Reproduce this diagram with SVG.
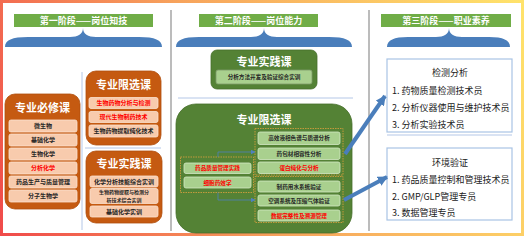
<svg xmlns="http://www.w3.org/2000/svg" width="524" height="237" viewBox="0 0 524 237">
<defs>
<linearGradient id="frame" gradientUnits="userSpaceOnUse" x1="0" y1="237" x2="524" y2="0">
<stop offset="0" stop-color="#f04a4a"/>
<stop offset="0.45" stop-color="#f7a35c"/>
<stop offset="1" stop-color="#ffe36b"/>
</linearGradient>
<marker id="thin" markerUnits="userSpaceOnUse" markerWidth="5" markerHeight="5" refX="4.5" refY="2.5" orient="auto"><path d="M0,0 L5,2.5 L0,5 Z" fill="#4f81bd"/></marker>
<marker id="thick" markerUnits="userSpaceOnUse" markerWidth="10" markerHeight="10" refX="9" refY="5" orient="auto"><path d="M0,0 L10,5 L0,10 Z" fill="#4a7ebb"/></marker>
</defs>
<style>
text{font-family:"Noto Sans CJK SC","Noto Sans",sans-serif}
.stt{font-size:9px;font-weight:bold;fill:#fff;text-anchor:middle}
.bar{fill:#70ad47}
.brace{fill:#4a7ebb}
.sep{stroke:#b4c7e7;stroke-width:1;fill:none}
.div{stroke:#a6a6a6;stroke-width:1.5}
.obox{fill:#c55a11;stroke:#b04e0d;stroke-width:0.8}
.gbox{fill:#548235;stroke:#466f2b;stroke-width:0.8}
.ttl{font-size:11px;font-weight:bold;fill:#fff;text-anchor:middle}
.oi{fill:#f8cbad;stroke:#fbe2d0;stroke-width:0.8}
.gi{fill:#a9d08e;stroke:#d3e8c4;stroke-width:0.8}
.it{font-size:6px;font-weight:bold;fill:#262626;text-anchor:middle}
.it2{font-size:5px;font-weight:bold;fill:#262626;text-anchor:middle}
.gt{font-size:5.6px;font-weight:bold;fill:#262626;text-anchor:middle}
.red{fill:#ff0000}
.grp{fill:none;stroke:#c39a3c;stroke-width:1;stroke-dasharray:1.5 1}
.cbox{fill:#fff;stroke:#a9c4e4;stroke-width:1.2}
.ct{font-size:9px;fill:#1a1a1a}
.ch{font-size:9px;fill:#1a1a1a;text-anchor:middle}
</style>
<rect x="0" y="0" width="524" height="237" fill="#fff"/>
<rect x="1.5" y="1.5" width="521" height="233" fill="#fff" stroke="url(#frame)" stroke-width="3"/>

<line class="div" x1="171" y1="10" x2="171" y2="231"/>
<line class="div" x1="369" y1="10" x2="369" y2="231"/>

<g id="stage1-header">
<rect class="bar" x="14" y="14" width="139" height="13"/>
<text class="stt" x="83.5" y="24.3">第一阶段——岗位知技</text>
<path class="brace" d="M5,47 C5,40 12,37 28,37 L70,37 C78,37 83,34 83,28 C83,34 88,37 96,37 L139,37 C155,37 162,40 162,47 Z"/>
</g>
<g id="stage2-header">
<rect class="bar" x="199" y="14" width="119" height="13"/>
<text class="stt" x="258.5" y="24.3">第二阶段——岗位能力</text>
<path class="brace" d="M176,47 C176,40 183,37 199,37 L251,37 C259,37 264,34 264,28 C264,34 269,37 277,37 L329,37 C345,37 352,40 352,47 Z"/>
</g>
<g id="stage3-header">
<rect class="bar" x="381" y="14" width="130" height="13"/>
<text class="stt" x="446" y="24.3">第三阶段——职业素养</text>
<path class="brace" d="M387,47 C387,40 394,37 408,37 L436,37 C444,37 449,34 449,28 C449,34 454,37 462,37 L489,37 C503,37 510,40 510,47 Z"/>
</g>

<g id="separators">
<line class="sep" x1="82" y1="72" x2="82" y2="230"/>
<line class="sep" x1="85" y1="148" x2="161" y2="148"/>
<line class="sep" x1="178" y1="98" x2="353" y2="98"/>
<line class="sep" x1="387" y1="135" x2="512" y2="135"/>
</g>

<g id="bixiu">
<rect class="obox" x="5" y="94" width="75" height="115" rx="10"/>
<text class="ttl" x="42.5" y="112">专业必修课</text>
<rect class="oi" x="9" y="120" width="68" height="12" rx="2"/><text class="it" x="43" y="128.2">微生物</text>
<rect class="oi" x="9" y="134" width="68" height="12" rx="2"/><text class="it" x="43" y="142.2">基础化学</text>
<rect class="oi" x="9" y="148" width="68" height="12" rx="2"/><text class="it" x="43" y="156.2">生物化学</text>
<rect class="oi" x="9" y="162" width="68" height="12" rx="2"/><text class="it red" x="43" y="170.2">分析化学</text>
<rect class="oi" x="9" y="176" width="68" height="12" rx="2"/><text class="it" x="43" y="184.2">药品生产与质量管理</text>
<rect class="oi" x="9" y="190" width="68" height="12" rx="2"/><text class="it" x="43" y="198.2">分子生物学</text>
</g>

<g id="xianxuan1">
<rect class="obox" x="86" y="71" width="75" height="74" rx="10"/>
<text class="ttl" x="123.5" y="89">专业限选课</text>
<rect class="oi" x="89" y="97.5" width="69" height="11" rx="2"/><text class="it red" x="123.5" y="105.2">生物药物分析与检测</text>
<rect class="oi" x="89" y="111.5" width="69" height="11" rx="2"/><text class="it red" x="123.5" y="119.2">现代生物制药技术</text>
<rect class="oi" x="89" y="125" width="69" height="12" rx="2"/><text class="it" x="123.5" y="133.2">生物药物提取纯化技术</text>
</g>

<g id="shijian1">
<rect class="obox" x="86" y="151" width="76" height="72" rx="10"/>
<text class="ttl" x="124" y="168">专业实践课</text>
<rect class="oi" x="90" y="176" width="68" height="11" rx="2"/><text class="it" x="124" y="183.7">化学分析技能综合实训</text>
<rect class="oi" x="90" y="188.5" width="68" height="15" rx="2"/><text class="it2" x="124" y="194.4">生物药物提取与检测分</text><text class="it2" x="124" y="201.7">析技术综合实训</text>
<rect class="oi" x="90" y="206" width="68" height="11" rx="2"/><text class="it" x="124" y="213.7">基础化学实训</text>
</g>

<g id="shijian2">
<rect class="gbox" x="211" y="50" width="106" height="39" rx="6"/>
<text class="ttl" x="264" y="66">专业实践课</text>
<rect x="216" y="70" width="96" height="14" rx="2" fill="#a9d08e" stroke="#7f9a6b" stroke-width="0.8"/>
<text class="gt" x="264" y="79">分析方法开发及验证综合实训</text>
</g>

<g id="xianxuan2">
<rect class="gbox" x="176" y="104" width="176" height="129" rx="20"/>
<text class="ttl" x="264" y="124">专业限选课</text>
</g>

<g id="group-left">
<rect class="grp" x="180.5" y="157" width="73" height="35.5"/>
<rect class="gi" x="184" y="163" width="67" height="10.5" rx="2"/><text class="gt red" x="217.5" y="170.3">药品质量管理实践</text>
<rect class="gi" x="184" y="177" width="67" height="11" rx="2"/><text class="gt red" x="217.5" y="184.5">细胞药效学</text>
</g>

<g id="group-right-top">
<rect class="grp" x="255" y="128.5" width="88" height="46.5"/>
<rect class="gi" x="258" y="132" width="82" height="12.5" rx="2"/><text class="gt" x="299" y="140.2">高效液相色谱与质谱分析</text>
<rect class="gi" x="258" y="148" width="82" height="11.5" rx="2"/><text class="gt" x="299" y="155.7">药包材相容性分析</text>
<rect class="gi" x="258" y="162" width="82" height="11.5" rx="2"/><text class="gt red" x="299" y="169.7">蛋白纯化与分析</text>
</g>

<g id="group-right-bottom">
<rect class="grp" x="255" y="176.5" width="88" height="46"/>
<rect class="gi" x="258" y="181" width="82" height="11" rx="2"/><text class="gt" x="299" y="188.5">制药用水系统验证</text>
<rect class="gi" x="258" y="195" width="82" height="11" rx="2"/><text class="gt" x="299" y="202.5">空调系统及压缩气体验证</text>
<rect class="gi" x="258" y="210" width="82" height="11" rx="2"/><text class="gt red" x="299" y="217.5">数据完整性及溯源管理</text>
</g>

<g id="career1">
<rect class="cbox" x="387" y="59" width="125" height="73"/>
<text class="ch" x="450" y="76">检测分析</text>
<text class="ct" x="392" y="93.5">1. 药物质量检测技术员</text>
<text class="ct" x="392" y="111">2. 分析仪器使用与维护技术员</text>
<text class="ct" x="392" y="128">3. 分析实验技术员</text>
</g>

<g id="career2">
<rect class="cbox" x="387" y="148" width="125" height="72"/>
<text class="ch" x="450" y="165.5">环境验证</text>
<text class="ct" x="392" y="182.5">1. 药品质量控制和管理技术员</text>
<text class="ct" x="392" y="199.5">2. GMP/GLP管理专员</text>
<text class="ct" x="392" y="215.5">3. 数据管理专员</text>
</g>

<g id="connectors">
<path d="M218,157 V152 H255" fill="none" stroke="#4f81bd" stroke-width="0.8" marker-end="url(#thin)"/>
<path d="M218,192.5 V200 H255" fill="none" stroke="#4f81bd" stroke-width="0.8" marker-end="url(#thin)"/>
<line x1="345" y1="154" x2="385" y2="96" stroke="#4a7ebb" stroke-width="4" marker-end="url(#thick)"/>
<line x1="344" y1="200" x2="387" y2="177" stroke="#4a7ebb" stroke-width="4" marker-end="url(#thick)"/>
</g>
</svg>
